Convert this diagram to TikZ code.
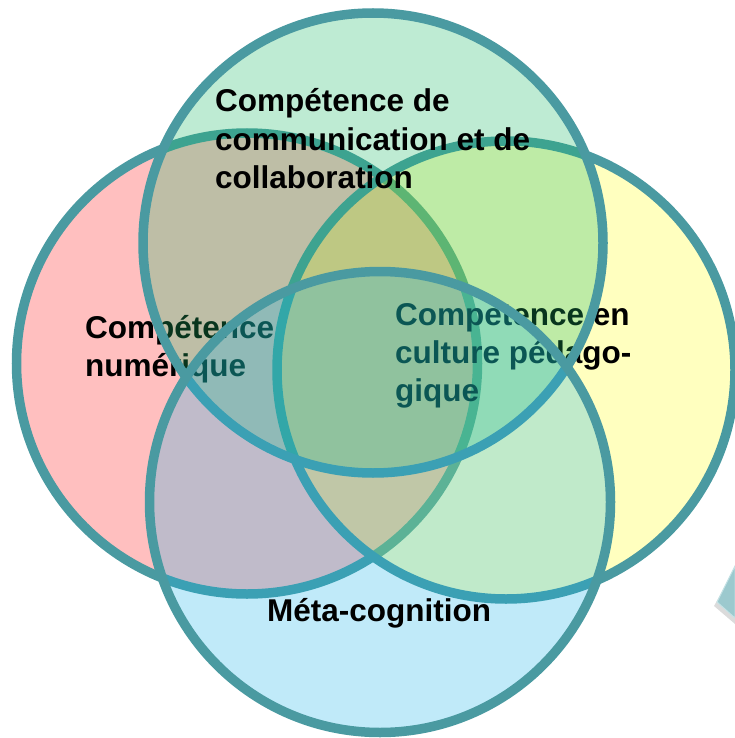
\documentclass[tikz,border=0pt]{standalone}
\usepackage{fontspec}
\setmainfont{Liberation Sans}
\definecolor{ring}{RGB}{74,154,161}
\definecolor{cL}{RGB}{255,0,0}
\definecolor{cR}{RGB}{255,255,0}
\definecolor{cT}{RGB}{31,186,103}
\definecolor{cB}{RGB}{22,178,233}
\definecolor{tabfill}{RGB}{156,201,206}
\definecolor{tabedge}{RGB}{196,226,229}
\tikzset{
  ringline/.style={draw=ring, line width=9.5pt},
  lab/.style={anchor=base west, inner sep=0pt, font=\fontsize{31.5}{38}\selectfont\bfseries, text=black},
}
\begin{document}
\begin{tikzpicture}[x=1pt,y=-1pt]
\useasboundingbox (0,0) rectangle (735,738);
% small tab at the bottom right edge
\fill[black!40, opacity=0.35] (714,606) -- (735,569) -- (735,624) -- cycle;
\fill[tabfill, draw=tabedge, line width=1pt] (717,602) -- (735,566) -- (735,618) -- cycle;
% left circle
\fill[cL, fill opacity=0.25] (247,363.5) circle[radius=230.5pt];
\draw[ringline] (247,363.5) circle[radius=230.5pt];
\node[lab] (l1) at (85,338) {Compétence};
\node[lab] (l2) at (85,376) {numérique};
% right circle
\fill[cR, fill opacity=0.25] (506,370) circle[radius=229pt];
\draw[ringline] (506,370) circle[radius=229pt];
\node[lab] (r1) at (395,325) {Competence en};
\node[lab] (r2) at (395,363) {culture pédago-};
\node[lab] (r3) at (395,401) {gique};
% top circle
\fill[cT, fill opacity=0.29] (373,243) circle[radius=230pt];
\draw[ringline] (373,243) circle[radius=230pt];
\node[lab] (t1) at (215,112) {Compétence de};
\node[lab] (t2) at (215,150.5) {communication et de};
\node[lab] (t3) at (215,189) {collaboration};
% bottom circle
\fill[cB, fill opacity=0.27] (380,502) circle[radius=230.5pt];
\draw[ringline] (380,502) circle[radius=230.5pt];
\node[lab] (b1) at (267,621) {Méta-cognition};
\end{tikzpicture}
\end{document}
